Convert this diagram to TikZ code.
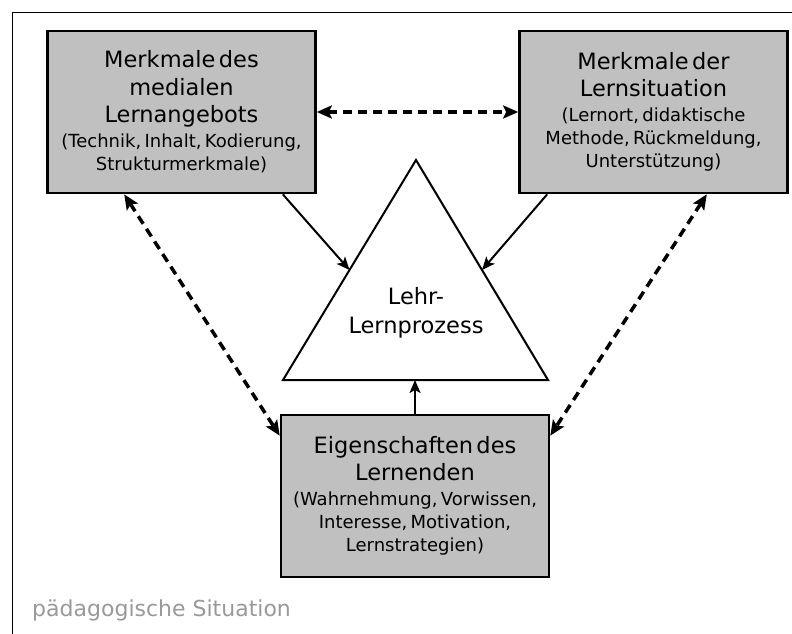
\documentclass[tikz,border=0pt]{standalone}
\usepackage{fontspec}
\setmainfont{DejaVu Sans}
\usetikzlibrary{arrows.meta,calc}
\definecolor{boxgray}{HTML}{C0C0C0}
\definecolor{labelgray}{HTML}{999999}
\newcommand{\titel}{\fontsize{22.5}{27.5}\selectfont}
\newcommand{\detail}{\fontsize{18}{23}\selectfont}
\begin{document}
\begin{tikzpicture}[x=1pt,y=-1pt,inner sep=0pt,
	box/.style={rectangle,draw,line width=2.6pt,fill=boxgray,minimum width=268pt,minimum height=162pt,text width=264pt,align=center},
	pfeil/.style={line width=2pt,-{Stealth[length=13pt,width=11pt,inset=3pt]}},
	doppel/.style={line width=3.5pt,dash pattern=on 9pt off 6pt,{Stealth[length=15pt,width=13pt,inset=3pt]}-{Stealth[length=15pt,width=13pt,inset=3pt]}}]
	\useasboundingbox (0,0) rectangle (792,634);
%	Rahmen der Situation
	\coordinate (ru) at (12,634);
	\coordinate (rl) at (12,12);
	\coordinate (rr) at (792,12);
	\draw [line width=0.9pt] (ru) -- (rl) -- (rr);
	\node [text=labelgray,anchor=base west,font=\fontsize{22}{26}\selectfont] (situ) at (32,616) {pädagogische Situation};
%	Kästen
	\node [box] (angebot) at (181.5,112) {{\titel Merkmale des\\ medialen\\ Lernangebots\par}\vspace{2pt}{\detail (Technik, Inhalt, Kodierung,\\ Strukturmerkmale)\par}};
	\node [box] (situation) at (653.5,112) {{\titel Merkmale der\\ Lernsituation\par}\vspace{2pt}{\detail (Lernort, didaktische\\ Methode, Rückmeldung,\\ Unterstützung)\par}};
	\node [box] (lernende) at (415,496) {{\titel Eigenschaften des\\ Lernenden\par}\vspace{2pt}{\detail (Wahrnehmung, Vorwissen,\\ Interesse, Motivation,\\ Lernstrategien)\par}};
%	Dreieck
	\coordinate (spitze) at (416,160);
	\coordinate (bl) at (283,380);
	\coordinate (br) at (548,380);
	\draw [line width=2pt,line join=miter] (spitze) -- (bl) -- (br) -- cycle;
	\node [align=center,font=\fontsize{22.5}{29}\selectfont] (prozess) at (416,313) {Lehr-\\ Lernprozess};
	\coordinate (lmid) at ($(spitze)!0.5!(bl)$);
	\coordinate (rmid) at ($(spitze)!0.5!(br)$);
%	Pfeile
	\draw [pfeil] ([xshift=-34pt]angebot.south east) -- (lmid);
	\draw [pfeil] ([xshift=29pt]situation.south west) -- (rmid);
	\draw [pfeil] (lernende.north) -- (lernende.north |- br);
	\draw [doppel] (angebot.east) -- (situation.west);
	\draw [doppel] ([xshift=78pt]angebot.south west) -- ([yshift=-22pt]lernende.north west);
	\draw [doppel] ([xshift=-82pt]situation.south east) -- ([yshift=-22pt]lernende.north east);
\end{tikzpicture}
\end{document}
